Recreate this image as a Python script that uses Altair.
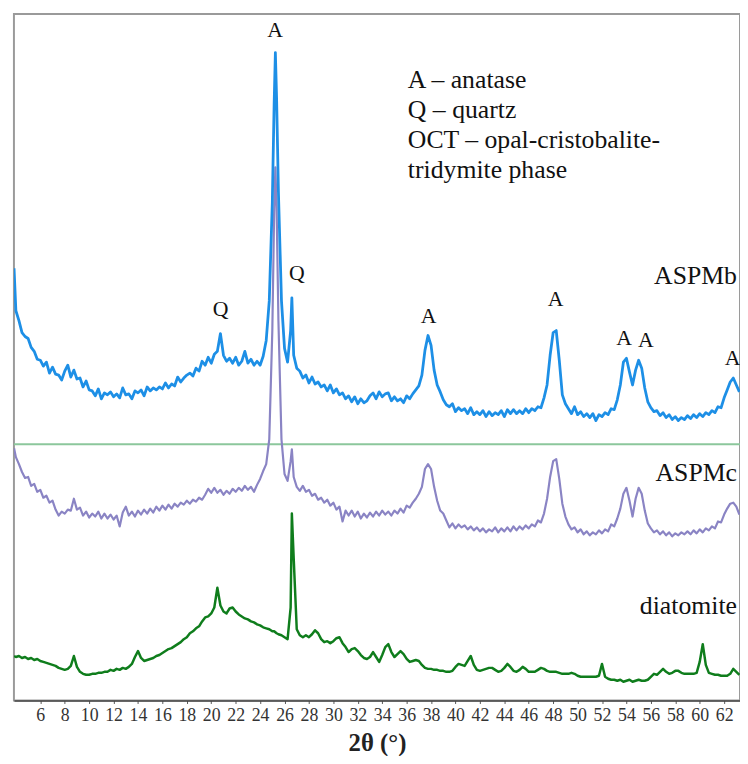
import altair as alt
import pandas as pd

# 2-theta sampling positions (degrees)
ANGLE = [3.85] + sorted([4 + 0.25 * i for i in range(238)] + [25.15, 25.35, 26.6])

# Intensities (arbitrary units, stacked offsets as in the figure)
ASPMB = [
    437,
    394, 384, 372, 368,
    366, 357, 353, 345,
    344, 338, 342, 331,
    337, 330, 329, 324,
    333, 339, 327, 334,
    325, 326, 317, 323,
    314, 313, 308, 315,
    305, 311, 309, 312,
    307, 310, 306, 316,
    309, 310, 305, 313,
    311, 314, 308, 317,
    313, 316, 314, 317,
    315, 321, 316, 320,
    318, 327, 322, 326,
    329, 331, 328, 336,
    333, 343, 339, 347,
    341, 350, 353, 371,
    349, 343, 346, 341,
    347, 339, 343, 353,
    341, 345, 339, 343,
    339, 348, 364, 404,
    504, 604, 655, 609, 514, 404,
    356, 342, 374, 407, 349,
    336, 333, 326, 329,
    321, 327, 320, 322,
    317, 319, 313, 319,
    311, 315, 309, 311,
    305, 308, 302, 307,
    300, 305, 301, 303,
    308, 311, 305, 312,
    307, 310, 311, 303,
    307, 303, 305, 301,
    308, 305, 310, 314,
    318, 329, 354, 369,
    359, 334, 319, 312,
    304, 299, 297, 300,
    292, 296, 293, 295,
    290, 296, 289, 292,
    289, 293, 287, 292,
    288, 291, 289, 293,
    287, 294, 290, 294,
    290, 293, 290, 295,
    291, 295, 293, 297,
    296, 306, 319, 349,
    372, 374, 344, 309,
    300, 295, 290, 297,
    289, 292, 287, 290,
    286, 290, 283, 289,
    287, 291, 289, 295,
    294, 304, 319, 342,
    346, 332, 319, 334,
    344, 336, 316, 302,
    296, 292, 293, 288,
    291, 286, 289, 284,
    287, 283, 286, 284,
    288, 285, 289, 286,
    290, 287, 291, 289,
    293, 291, 297, 296,
    306, 314, 322, 326,
    319, 312,
]

ASPMC = [
    255,
    246, 239, 231, 225,
    226, 217, 219, 211,
    213, 205, 207, 200,
    202, 193, 187, 191,
    189, 193, 192, 204,
    193, 195, 187, 191,
    185, 189, 186, 191,
    184, 189, 184, 188,
    183, 187, 176, 190,
    196, 187, 191, 186,
    192, 188, 193, 189,
    194, 190, 196, 192,
    197, 193, 198, 194,
    199, 196, 200, 198,
    202, 199, 203, 201,
    205, 203, 208, 214,
    210, 215, 210, 213,
    208, 212, 209, 214,
    211, 215, 212, 217,
    213, 216, 211, 218,
    224, 232, 239, 264,
    374, 494, 539, 499, 384, 264,
    229, 222, 242, 254, 226,
    216, 212, 217, 211,
    213, 207, 209, 203,
    205, 200, 203, 197,
    200, 193, 196, 181,
    192, 187, 192, 186,
    191, 184, 189, 185,
    190, 186, 191, 187,
    192, 188, 191, 187,
    192, 189, 194, 190,
    197, 195, 200, 204,
    209, 216, 234, 239,
    234, 216, 202, 192,
    189, 182, 175, 179,
    174, 178, 175, 177,
    173, 176, 172, 175,
    171, 174, 170, 173,
    171, 175, 170, 174,
    171, 175, 171, 176,
    172, 176, 173, 177,
    174, 178, 176, 182,
    180, 189, 204, 226,
    242, 244, 224, 199,
    186, 178, 173, 175,
    170, 173, 168, 171,
    167, 170, 168, 172,
    169, 173, 171, 178,
    176, 184, 194, 209,
    215, 202, 186, 204,
    215, 209, 192, 179,
    174, 170, 172, 168,
    171, 167, 170, 166,
    169, 167, 170, 168,
    171, 168, 172, 169,
    173, 170, 174, 172,
    176, 174, 181, 180,
    188, 194, 199, 200,
    196, 188,
]

DIATOMITE = [
    45,
    44, 45, 43, 44,
    42, 43, 41, 42,
    40, 39, 38, 37,
    36, 35, 33, 32,
    31, 32, 35, 45,
    34, 29, 27, 26,
    26, 27, 27, 28,
    28, 29, 29, 31,
    30, 32, 31, 33,
    32, 34, 37, 44,
    50, 43, 40, 41,
    42, 43, 45, 46,
    48, 50, 52, 53,
    55, 57, 59, 62,
    64, 68, 70, 73,
    75, 80, 84, 85,
    88, 94, 114, 96,
    90, 88, 93, 94,
    90, 87, 85, 83,
    82, 80, 79, 77,
    76, 74, 73, 72,
    70, 70, 69, 68, 67, 66,
    64, 62, 94, 189, 144,
    72, 66, 64, 66,
    64, 67, 71, 68,
    62, 59, 60, 58,
    60, 63, 64, 58,
    54, 49, 52, 53,
    50, 46, 43, 42,
    44, 49, 44, 39,
    46, 54, 57, 49,
    44, 47, 50, 47,
    42, 39, 40, 41,
    40, 36, 33, 32,
    32, 31, 31, 30,
    30, 29, 29, 30,
    34, 37, 36, 35,
    40, 45, 36, 31,
    30, 31, 32, 33,
    33, 31, 29, 30,
    33, 37, 34, 30,
    29, 31, 34, 32,
    29, 29, 29, 31,
    33, 32, 30, 29,
    29, 29, 28, 27,
    27, 27, 28, 27,
    25, 24, 24, 24,
    24, 24, 24, 25,
    37, 24, 22, 21,
    21, 20, 21, 19,
    20, 21, 19, 20,
    21, 20, 20, 21,
    24, 27, 26, 29,
    32, 29, 27, 28,
    30, 30, 28, 27,
    27, 27, 27, 28,
    39, 57, 36, 28,
    27, 26, 26, 25,
    25, 25, 27, 32,
    29, 26,
]

assert len(ANGLE) == len(ASPMB) == len(ASPMC) == len(DIATOMITE)

# Annotations
PEAK_TXT = ["A", "Q", "Q", "A", "A", "A", "A", "A"]
PEAK_X = [25.23, 20.77, 27.0, 37.8, 48.2, 53.8, 55.6, 62.7]
PEAK_Y = [678, 396, 432, 389, 406, 366, 364, 346]

SERIES_TXT = ["ASPMb", "ASPMc", "diatomite"]
SERIES_X = [63.05, 63.05, 63.05]
SERIES_Y = [429, 230, 95]

LEGEND_TXT = ["A – anatase", "Q – quartz", "OCT – opal-cristobalite-", "tridymite phase"]
LEGEND_X = [36.1, 36.1, 36.1, 36.1]
LEGEND_Y = [627, 597, 567, 536]

SEPARATOR_Y = [259]

TICKS = list(range(6, 63, 2))

FONT = "Liberation Serif, Times New Roman, DejaVu Serif, serif"
X_DOMAIN = [3.84, 63.3]
Y_DOMAIN = [0, 694]

xs = alt.Scale(domain=X_DOMAIN, nice=False, zero=False)
ys = alt.Scale(domain=Y_DOMAIN, nice=False, zero=False)

xaxis = alt.Axis(
    values=TICKS, title="2θ (°)", titleFont=FONT, titleFontSize=25, titleFontWeight="bold",
    titleColor="#222", titlePadding=7, labelFont=FONT, labelFontSize=18, labelColor="#333",
    labelPadding=3, tickSize=3, tickColor="#555", domainColor="#444", domainWidth=1.5,
    grid=False, labelFlush=False, labelOverlap=False,
)


def trace(values, color, width):
    df = pd.DataFrame({"angle": ANGLE, "intensity": values})
    return alt.Chart(df).mark_line(color=color, strokeWidth=width, clip=True,
                                   strokeJoin="round").encode(
        x=alt.X("angle:Q", scale=xs, axis=xaxis, title="2θ (°)"),
        y=alt.Y("intensity:Q", scale=ys, axis=None),
    )


sep = alt.Chart(pd.DataFrame({"y": SEPARATOR_Y})).mark_rule(
    color="#8cc79c", strokeWidth=2).encode(y=alt.Y("y:Q", scale=ys, axis=None))

green = trace(DIATOMITE, "#0f7d1c", 2.5)
purple = trace(ASPMC, "#8a84c4", 2.2)
blue = trace(ASPMB, "#1d8fe6", 2.8)


def texts(xv, yv, tv, size, align):
    df = pd.DataFrame({"x": xv, "y": yv, "t": tv})
    return alt.Chart(df).mark_text(
        font=FONT, fontSize=size, color="#111", baseline="middle", align=align
    ).encode(
        x=alt.X("x:Q", scale=xs, axis=xaxis, title="2θ (°)"),
        y=alt.Y("y:Q", scale=ys, axis=None),
        text="t:N",
    )


peaks = texts(PEAK_X, PEAK_Y, PEAK_TXT, 22, "center")
names = texts(SERIES_X, SERIES_Y, SERIES_TXT, 26, "right")
legend = texts(LEGEND_X, LEGEND_Y, LEGEND_TXT, 26, "left")

chart = alt.layer(sep, green, purple, blue, peaks, names, legend).properties(
    width=734, height=694,
    padding={"left": 6, "top": 2, "right": 0, "bottom": 52},
    autosize=alt.AutoSizeParams(type="none"),
    background="white",
).configure_view(stroke="#9a9a9a", strokeWidth=2)

chart.save("out.html", embed_options={"renderer": "svg", "actions": False})
